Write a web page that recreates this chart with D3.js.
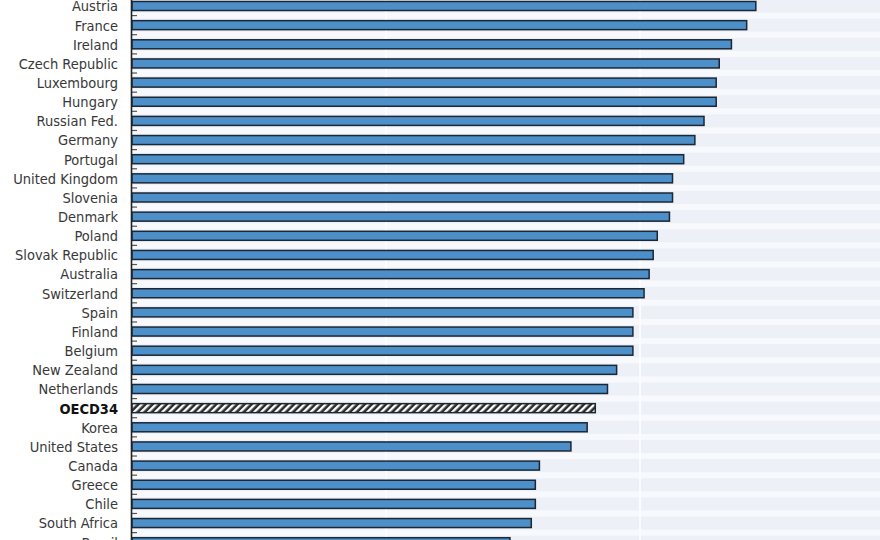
<!DOCTYPE html>
<html>
<head>
<meta charset="utf-8">
<script src="https://cdn.jsdelivr.net/npm/d3@7"></script>
<style>
  body { margin: 0; background: #fff; }
  svg { display: block; }
</style>
</head>
<body>
<div id="chart"></div>
<script>
// countries from top to bottom (chart is cropped at top and bottom)
const countries = ["Austria", "France", "Ireland", "Czech Republic", "Luxembourg", "Hungary",
    "Russian Fed.", "Germany", "Portugal", "United Kingdom", "Slovenia", "Denmark", "Poland",
    "Slovak Republic", "Australia", "Switzerland", "Spain", "Finland", "Belgium", "New Zealand",
    "Netherlands", "OECD34", "Korea", "United States", "Canada", "Greece", "Chile",
    "South Africa", "Brazil"];
const values = [61.4, 60.5, 59.0, 57.8, 57.5, 57.5,
    56.3, 55.4, 54.3, 53.2, 53.2, 52.9, 51.7,
    51.3, 50.9, 50.4, 49.3, 49.3, 49.3, 47.7,
    46.8, 45.6, 44.8, 43.2, 40.1, 39.7, 39.7,
    39.3, 37.2];
const gridTicks = [25, 50, 75];
const average = "OECD34";

const width = 880, height = 540;
const left = 132;
const step = 19.15;

const svg = d3.select("#chart").append("svg")
    .attr("width", width)
    .attr("height", height);

const x = d3.scaleLinear()
    .domain([0, 75])
    .range([left, 894]);

const y = d3.scaleBand()
    .domain(countries)
    .range([6 - step / 2, 6 - step / 2 + step * countries.length])
    .paddingInner(0)
    .paddingOuter(0);

// hatch for the average bar
const defs = svg.append("defs");
defs.append("pattern")
    .attr("id", "hatch")
    .attr("patternUnits", "userSpaceOnUse")
    .attr("width", 5)
    .attr("height", 5)
    .attr("patternTransform", "rotate(45)")
    .call(p => {
        p.append("rect").attr("width", 5).attr("height", 5).attr("fill", "#2a2a2a");
        p.append("rect").attr("width", 2.4).attr("height", 5).attr("fill", "#fff");
    });

// plot background
svg.append("rect")
    .attr("x", left)
    .attr("y", 0)
    .attr("width", width - left)
    .attr("height", height)
    .attr("fill", "#edf1f7");

// light stripes between rows
svg.append("g")
    .selectAll("rect")
    .data(countries)
    .enter().append("rect")
    .attr("x", left)
    .attr("y", d => y(d) - 3)
    .attr("width", width - left)
    .attr("height", 6)
    .attr("fill", "#f7f9fc");

// vertical grid
svg.append("g")
    .selectAll("line")
    .data(gridTicks)
    .enter().append("line")
    .attr("x1", d => x(d))
    .attr("x2", d => x(d))
    .attr("y1", 0)
    .attr("y2", height)
    .attr("stroke", "#fbfcfe")
    .attr("stroke-width", 2);

// bars
const barH = 9;
svg.append("g")
    .selectAll("rect")
    .data(countries)
    .enter().append("rect")
    .attr("x", x(0))
    .attr("y", d => y(d) + y.bandwidth() / 2 - barH / 2)
    .attr("width", (d, i) => x(values[i]) - x(0))
    .attr("height", barH)
    .attr("fill", d => d == average ? "url(#hatch)" : "#4d8fc8")
    .attr("stroke", "#1b2735")
    .attr("stroke-width", 1.5);

// left axis with small ticks at row boundaries
svg.append("g")
    .selectAll("line")
    .data(countries)
    .enter().append("line")
    .attr("x1", left)
    .attr("x2", left + 5)
    .attr("y1", d => y(d) + y.bandwidth())
    .attr("y2", d => y(d) + y.bandwidth())
    .attr("stroke", "#555")
    .attr("stroke-width", 1.2);

svg.append("line")
    .attr("x1", left - 0.5)
    .attr("x2", left - 0.5)
    .attr("y1", 0)
    .attr("y2", height)
    .attr("stroke", "#222")
    .attr("stroke-width", 1.6);

// country labels
svg.append("g")
    .selectAll("text")
    .data(countries)
    .enter().append("text")
    .attr("x", 118)
    .attr("y", d => y(d) + y.bandwidth() / 2)
    .attr("dy", "0.37em")
    .attr("text-anchor", "end")
    .style("font-family", "'DejaVu Sans Condensed', 'Liberation Sans Narrow', sans-serif")
    .style("font-size", "14.5px")
    .style("font-weight", d => d == average ? "bold" : "normal")
    .attr("fill", d => d == average ? "#111" : "#383838")
    .text(d => d);
</script>
</body>
</html>
